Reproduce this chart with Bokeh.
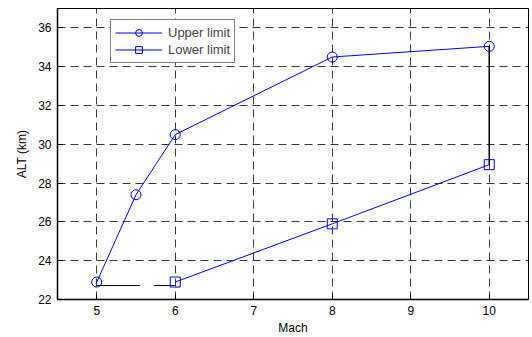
from bokeh.plotting import figure
from bokeh.models import Legend, LegendItem, FixedTicker
from bokeh.embed import file_html
from bokeh.resources import INLINE

upper_mach = [5, 5.5, 6, 8, 10]
upper_alt = [22.9, 27.4, 30.5, 34.5, 35.05]
lower_mach = [6, 8, 10]
lower_alt = [22.9, 25.9, 28.95]
# black reference lines
base_x1 = [5, 5.55]
base_x2 = [5.73, 6]
base_y = [22.72, 22.72]
edge_x = [10, 10]
edge_y = [35.05, 28.95]

x_ticks = [5, 6, 7, 8, 9, 10]
y_ticks = [22, 24, 26, 28, 30, 32, 34, 36]

FONT = "Liberation Sans"

p = figure(width=532, height=337, x_range=(4.5, 10.5), y_range=(22, 37),
           output_backend="svg", toolbar_location=None,
           min_border_left=57, min_border_bottom=35, min_border_top=8, min_border_right=4)
p.background_fill_color = "white"
p.border_fill_color = "white"
p.outline_line_color = "black"
p.outline_line_width = 1

for ax in (p.xaxis[0], p.yaxis[0]):
    ax.major_tick_in = 5
    ax.major_tick_out = 0
    ax.minor_tick_in = 0
    ax.minor_tick_out = 0
    ax.axis_line_color = "black"
    ax.axis_line_width = 1.5
    ax.major_label_text_font = FONT
    ax.major_label_text_font_size = "12px"
    ax.major_label_text_color = "black"
    ax.axis_label_text_font = FONT
    ax.axis_label_text_font_size = "12px"
    ax.axis_label_text_font_style = "normal"
    ax.axis_label_text_color = "black"
p.xaxis.ticker = FixedTicker(ticks=x_ticks)
p.yaxis.ticker = FixedTicker(ticks=y_ticks)
p.xaxis.axis_label = "Mach"
p.yaxis.axis_label = "ALT (km)"
p.xaxis.major_label_standoff = 6
p.yaxis.major_label_standoff = 6
p.xaxis.axis_label_standoff = 3
p.yaxis.axis_label_standoff = 6

p.grid.grid_line_color = "#3a3a3a"
p.grid.grid_line_dash = "8 5"
p.grid.grid_line_width = 1
p.xgrid.ticker = FixedTicker(ticks=x_ticks)
p.ygrid.ticker = FixedTicker(ticks=y_ticks)

p.line(base_x1, base_y, line_color="black", line_width=1)
p.line(base_x2, base_y, line_color="black", line_width=1)
p.line(edge_x, edge_y, line_color="black", line_width=1.5)

blue = "#0000ff"
l1 = p.line(upper_mach, upper_alt, line_color=blue, line_width=1)
m1 = p.scatter(upper_mach, upper_alt, marker="circle", size=10, line_color=blue,
               fill_color=None, line_width=1)
l2 = p.line(lower_mach, lower_alt, line_color=blue, line_width=1)
m2 = p.scatter(lower_mach, lower_alt, marker="square", size=10, line_color=blue,
               fill_color=None, line_width=1)

legend = Legend(items=[LegendItem(label="Upper limit", renderers=[l1, m1]),
                       LegendItem(label="Lower limit", renderers=[l2, m2])],
                location=(53, 236))
legend.border_line_color = "black"
legend.border_line_width = 1
legend.background_fill_color = "white"
legend.background_fill_alpha = 1
legend.label_text_font = FONT
legend.label_text_font_size = "13px"
legend.glyph_width = 47
legend.glyph_height = 17
legend.spacing = 0
legend.padding = 4
legend.margin = 0
legend.label_standoff = 6
legend.label_height = 17
p.add_layout(legend, "center")

open("out.html", "w").write(file_html(p, INLINE))
